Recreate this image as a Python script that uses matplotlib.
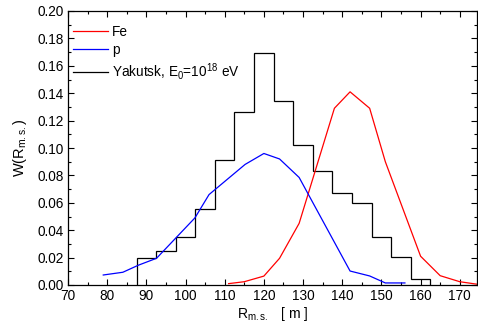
import matplotlib
matplotlib.use("Agg")
import matplotlib.pyplot as plt
from matplotlib.ticker import MultipleLocator
import numpy as np

plt.rcParams['font.family'] = ['Liberation Sans', 'DejaVu Sans']
plt.rcParams['mathtext.fontset'] = 'custom'
plt.rcParams['mathtext.rm'] = 'Liberation Sans'
plt.rcParams['mathtext.it'] = 'Liberation Sans'

# Fe simulation
fe_r = [111, 115, 120, 124, 129, 138, 142, 147, 151, 160, 165, 170, 174.6]
fe_w = [0.001, 0.0024, 0.0065, 0.0195, 0.045, 0.129, 0.141, 0.129, 0.090, 0.021, 0.0068, 0.0024, 0.0005]

# proton simulation
p_r = [79, 84, 88, 92.6, 102.4, 106, 115.2, 120, 124, 129, 142, 147, 151, 156]
p_w = [0.0073, 0.0093, 0.0145, 0.0195, 0.049, 0.066, 0.088, 0.096, 0.092, 0.0785, 0.0102, 0.0066, 0.0015, 0.0015]

# Yakutsk histogram
hist_edges = [87.5, 92.5, 97.5, 102.5, 107.5, 112.5, 117.5, 122.5, 127.5,
              132.5, 137.5, 142.5, 147.5, 152.5, 157.5, 162.5]
hist_vals = [0.0195, 0.0245, 0.0353, 0.0552, 0.0912, 0.126, 0.169, 0.1345,
             0.102, 0.0832, 0.0674, 0.0596, 0.0353, 0.0202, 0.0044]

fig = plt.figure(figsize=(4.78, 3.33), dpi=100)
ax = fig.add_axes([68/478, 1-285/333, (477-68)/478, (285-11)/333])

ax.plot(fe_r, fe_w, color='#ff0000', lw=0.9, label='Fe')
ax.plot(p_r, p_w, color='#0000ff', lw=0.9, label='p')
ax.stairs(hist_vals, hist_edges, baseline=0, fill=False, color='black', lw=0.9,
          label='Yakutsk, E$_0$=10$^{18}$ eV')

ax.set_xlim(70, 174.4)
ax.set_ylim(0, 0.20)
ax.xaxis.set_major_locator(MultipleLocator(10))
ax.xaxis.set_minor_locator(MultipleLocator(5))
ax.yaxis.set_major_locator(MultipleLocator(0.02))
ax.yaxis.set_minor_locator(MultipleLocator(0.01))
ax.yaxis.set_major_formatter(matplotlib.ticker.FormatStrFormatter('%.2f'))
ax.tick_params(which='both', direction='in', top=True, right=True, labelsize=9.8, width=0.8)
ax.tick_params(which='major', length=4, pad=3)
ax.tick_params(which='minor', length=2.5)
for s in ax.spines.values():
    s.set_linewidth(0.9)

ax.set_xlabel(r'R$_{\rm m.s.}$   [ m ]', fontsize=10, labelpad=1)
ax.set_ylabel(r'W(R$_{\rm m.s.}$)', fontsize=10.5, labelpad=6)

leg = ax.legend(loc='upper left', frameon=False, fontsize=9.8, handlelength=2.6,
                handletextpad=0.3, labelspacing=0.3, borderaxespad=0.3,
                bbox_to_anchor=(-0.012, 0.985))

fig.savefig('out.png', dpi=100)
